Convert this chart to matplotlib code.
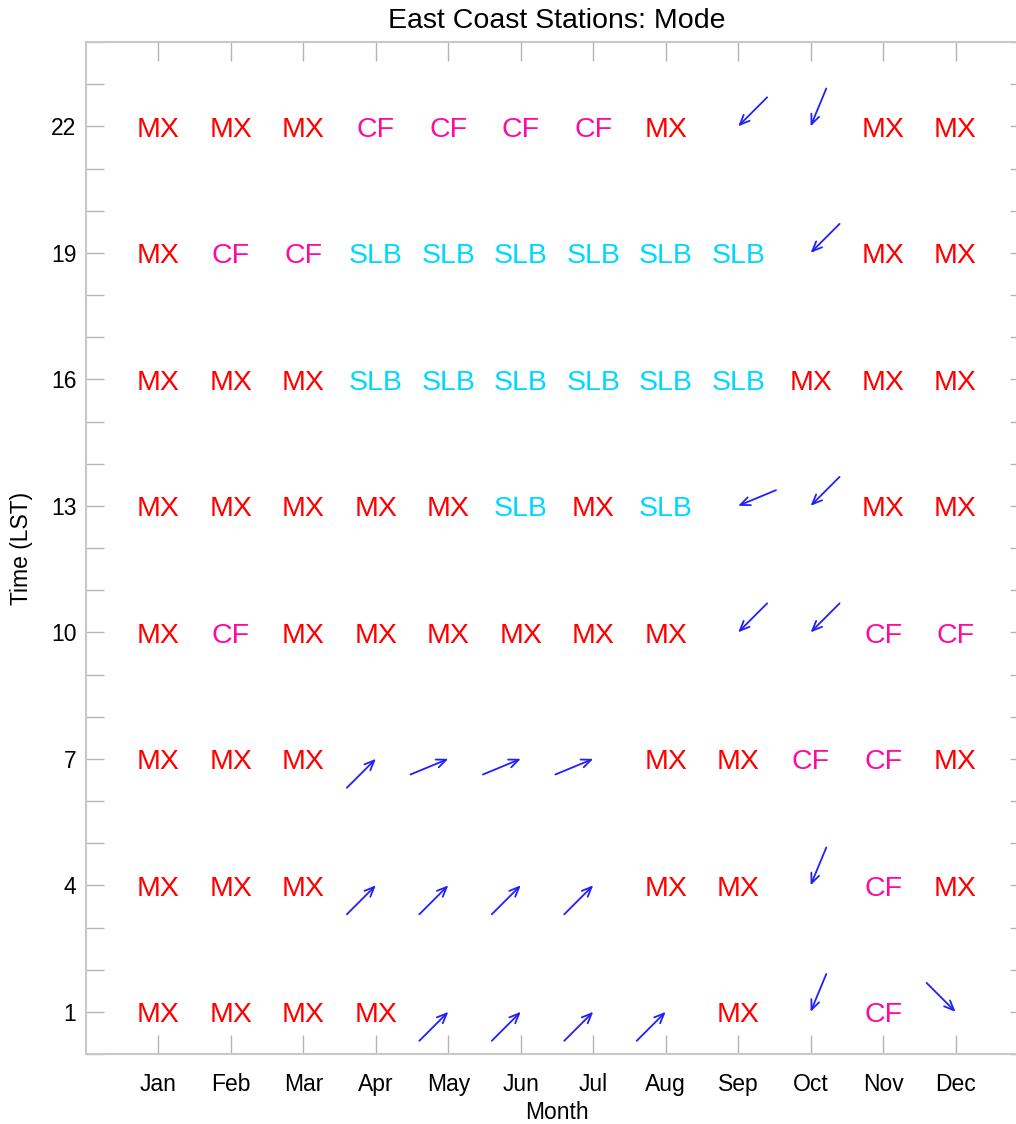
import numpy as np
import matplotlib
matplotlib.use("Agg")
import matplotlib.pyplot as plt
from matplotlib.ticker import MultipleLocator

plt.rcParams['font.family'] = ['Liberation Sans', 'DejaVu Sans']

months = ['Jan', 'Feb', 'Mar', 'Apr', 'May', 'Jun',
          'Jul', 'Aug', 'Sep', 'Oct', 'Nov', 'Dec']
hours = [22, 19, 16, 13, 10, 7, 4, 1]

# dominant mode per hour (rows) and month (columns); '' = wind vector instead
modes = [
    ['MX', 'MX', 'MX', 'CF', 'CF', 'CF', 'CF', 'MX', '', '', 'MX', 'MX'],
    ['MX', 'CF', 'CF', 'SLB', 'SLB', 'SLB', 'SLB', 'SLB', 'SLB', '', 'MX', 'MX'],
    ['MX', 'MX', 'MX', 'SLB', 'SLB', 'SLB', 'SLB', 'SLB', 'SLB', 'MX', 'MX', 'MX'],
    ['MX', 'MX', 'MX', 'MX', 'MX', 'SLB', 'MX', 'SLB', '', '', 'MX', 'MX'],
    ['MX', 'CF', 'MX', 'MX', 'MX', 'MX', 'MX', 'MX', '', '', 'CF', 'CF'],
    ['MX', 'MX', 'MX', '', '', '', '', 'MX', 'MX', 'CF', 'CF', 'MX'],
    ['MX', 'MX', 'MX', '', '', '', '', 'MX', 'MX', '', 'CF', 'MX'],
    ['MX', 'MX', 'MX', 'MX', '', '', '', '', 'MX', '', 'CF', ''],
]

# wind vectors: month index (1-12), hour, direction (deg, counter-clockwise from east)
arrow_month = [9, 10, 10, 9, 10, 9, 10,
               4, 5, 6, 7,
               4, 5, 6, 7, 10,
               5, 6, 7, 8, 10, 12]
arrow_hour = [22, 22, 19, 13, 13, 10, 10,
              7, 7, 7, 7,
              4, 4, 4, 4, 4,
              1, 1, 1, 1, 1, 1]
arrow_dir = [225, 247.5, 225, 202.5, 225, 225, 225,
             45, 22.5, 22.5, 22.5,
             45, 45, 45, 45, 247.5,
             45, 45, 45, 45, 247.5, 315]

colors = {'MX': '#ff0000', 'CF': '#ff0aa0', 'SLB': '#00d8ff'}

fig = plt.figure(figsize=(10.16, 11.24), dpi=100)
ax = fig.add_axes([86 / 1016, 70 / 1124, 942 / 1016, 1012 / 1124])
ax.set_xlim(0, 13)
ax.set_ylim(0, 24)

# centre the capitals on the grid point
fs = 20.5
for i, h in enumerate(hours):
    for j, m in enumerate(modes[i]):
        if m:
            ax.annotate(m, xy=(j + 1, h), xytext=(0, -0.358 * fs),
                        textcoords='offset points', color=colors[m],
                        fontsize=fs, ha='center', va='baseline')

arrow_len = 29.5  # points
for m, h, d in zip(arrow_month, arrow_hour, arrow_dir):
    u = np.cos(np.deg2rad(d))
    v = np.sin(np.deg2rad(d))
    ax.annotate('', xy=(m, h), xytext=(-u * arrow_len, -v * arrow_len),
                textcoords='offset points',
                arrowprops=dict(arrowstyle='->,head_length=0.7,head_width=0.3',
                                color='#2020ff', lw=1.3,
                                shrinkA=0, shrinkB=0))

ax.set_xticks(range(1, 13))
ax.set_xticklabels(months)
ax.set_yticks(hours)
ax.yaxis.set_minor_locator(MultipleLocator(1))

for s in ax.spines.values():
    s.set_color('#c8c8c8')
    s.set_linewidth(1.5)

ax.tick_params(axis='x', which='both', direction='in', length=14, width=1,
               color='#b4b4b4', top=True, labelsize=16.5, pad=14)
ax.tick_params(axis='y', which='both', direction='in', length=13, width=1,
               color='#b4b4b4', right=True, labelsize=16.5, pad=7)
ax.tick_params(axis='x', which='minor', bottom=False, top=False)

ax.set_xlabel('Month', fontsize=16.5, labelpad=3)
ax.set_ylabel('Time (LST)', fontsize=16.5, labelpad=13)
ax.set_title('East Coast Stations: Mode', fontsize=20.5, pad=10)

fig.savefig('out.png', dpi=100)
